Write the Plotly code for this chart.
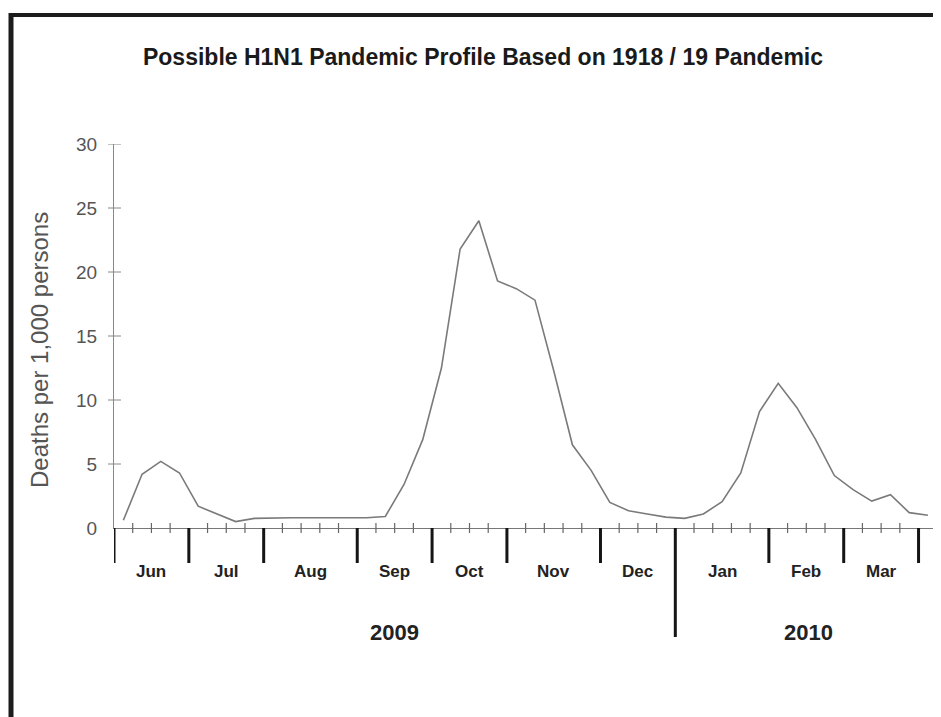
import plotly.graph_objects as go

# ---- data ----
months = ["Jun", "Jul", "Aug", "Sep", "Oct", "Nov", "Dec", "Jan", "Feb", "Mar"]
weeks_per_month = [4, 4, 5, 4, 4, 5, 4, 5, 4, 4]
years = ["2009", "2010"]
year_start_month = [0, 7]  # index into months where each year starts
week_pos = [w + 0.5 for w in range(44)]
deaths = [0.6, 4.2, 5.2, 4.3, 1.7, 1.1, 0.5, 0.75, 0.8, 0.8,
          0.8, 0.8, 0.8, 0.8, 0.9, 3.4, 6.9, 12.5, 21.8, 24.0,
          19.3, 18.7, 17.8, 12.3, 6.5, 4.5, 2.0, 1.35, 1.1, 0.85,
          0.75, 1.1, 2.05, 4.3, 9.1, 11.3, 9.4, 6.9, 4.1, 3.0,
          2.1, 2.6, 1.2, 1.0]
y_ticks = [0, 5, 10, 15, 20, 25, 30]

# ---- geometry helpers (page pixels; page has an 8px body margin) ----
OFF = 8
PAGE_W, PAGE_H = 941, 717
W, H = PAGE_W - OFF, PAGE_H - OFF
AX_X0, AX_Y0, AX_Y30 = 114, 528, 144   # page pixels of axis origin and y=30
X_MAX = 44.2
L = AX_X0 - OFF
T = AX_Y30 - OFF
B = H - (AX_Y0 - OFF)
R = 0
pw, ph = W - L - R, H - T - B

def px_x(p):
    return (p - OFF - L) / pw

def px_y(p):
    return (AX_Y0 - p) / ph

FONT = "Liberation Sans, Arial, sans-serif"

fig = go.Figure()
fig.add_trace(go.Scatter(x=week_pos, y=deaths, mode="lines",
                         line=dict(color="#7a7a7a", width=1.6),
                         hoverinfo="skip", cliponaxis=False))

shapes = []
annotations = []

# month boundaries
bounds = [0]
for n in weeks_per_month:
    bounds.append(bounds[-1] + n)

year_bound_weeks = [bounds[i] for i in year_start_month]
for b in bounds:
    long = b in year_bound_weeks[1:]
    shapes.append(dict(type="line", xref="x", yref="paper", x0=b, x1=b,
                       y0=0, y1=px_y(637 if long else 563),
                       line=dict(color="#151515", width=3)))

# weekly minor ticks
for w in range(0, int(X_MAX) + 1):
    if w in bounds:
        continue
    shapes.append(dict(type="line", xref="x", yref="paper", x0=w, x1=w,
                       y0=px_y(533), y1=px_y(523),
                       line=dict(color="#666666", width=1.2)))

# y ticks crossing axis
for t in y_ticks[1:]:
    shapes.append(dict(type="line", xref="paper", yref="y", x0=px_x(108), x1=px_x(121),
                       y0=t, y1=t, line=dict(color="#888888", width=1)))

# month labels
for i, m in enumerate(months):
    annotations.append(dict(x=(bounds[i] + bounds[i + 1]) / 2, y=px_y(571),
                            xref="x", yref="paper", text="<b>%s</b>" % m, showarrow=False,
                            font=dict(family=FONT, size=17, color="#222222"),
                            xanchor="center", yanchor="middle"))

# year labels
year_ends = year_bound_weeks[1:] + [X_MAX]
for i, yr in enumerate(years):
    annotations.append(dict(x=(year_bound_weeks[i] + year_ends[i]) / 2, y=px_y(632),
                            xref="x", yref="paper", text="<b>%s</b>" % yr, showarrow=False,
                            font=dict(family=FONT, size=22, color="#222222"),
                            xanchor="center", yanchor="middle"))

# y axis title
annotations.append(dict(x=px_x(39), y=px_y(350), xref="paper", yref="paper",
                        text="Deaths per 1,000 persons", textangle=-90, showarrow=False,
                        font=dict(family=FONT, size=24, color="#555555"),
                        xanchor="center", yanchor="middle"))

# scan border
shapes.append(dict(type="line", xref="paper", yref="paper", x0=px_x(9), x1=px_x(945),
                   y0=px_y(15), y1=px_y(15), line=dict(color="#1c1c1c", width=4)))
shapes.append(dict(type="line", xref="paper", yref="paper", x0=px_x(11), x1=px_x(11),
                   y0=px_y(13), y1=px_y(720), line=dict(color="#1c1c1c", width=5)))

fig.update_layout(
    width=W, height=H,
    margin=dict(l=L, r=R, t=T, b=B),
    paper_bgcolor="white", plot_bgcolor="white",
    showlegend=False,
    title=dict(text="<b>Possible H1N1 Pandemic Profile Based on 1918 / 19 Pandemic</b>",
               x=(483 - OFF) / W, xref="container", xanchor="center",
               y=1 - (57 - OFF) / H, yref="container", yanchor="middle",
               font=dict(family=FONT, size=23, color="#1a1a1a")),
    xaxis=dict(range=[0, X_MAX], showgrid=False, zeroline=False,
               showline=True, linecolor="#777777", linewidth=1.2,
               showticklabels=False, ticks=""),
    yaxis=dict(range=[0, 30], showgrid=False, zeroline=False,
               showline=True, linecolor="#888888", linewidth=1.2,
               tickvals=y_ticks, ticktext=[str(t) for t in y_ticks],
               ticks="", ticklabelstandoff=12,
               tickfont=dict(family=FONT, size=19, color="#555555")),
    shapes=shapes, annotations=annotations,
)

fig.write_html("out.html")
